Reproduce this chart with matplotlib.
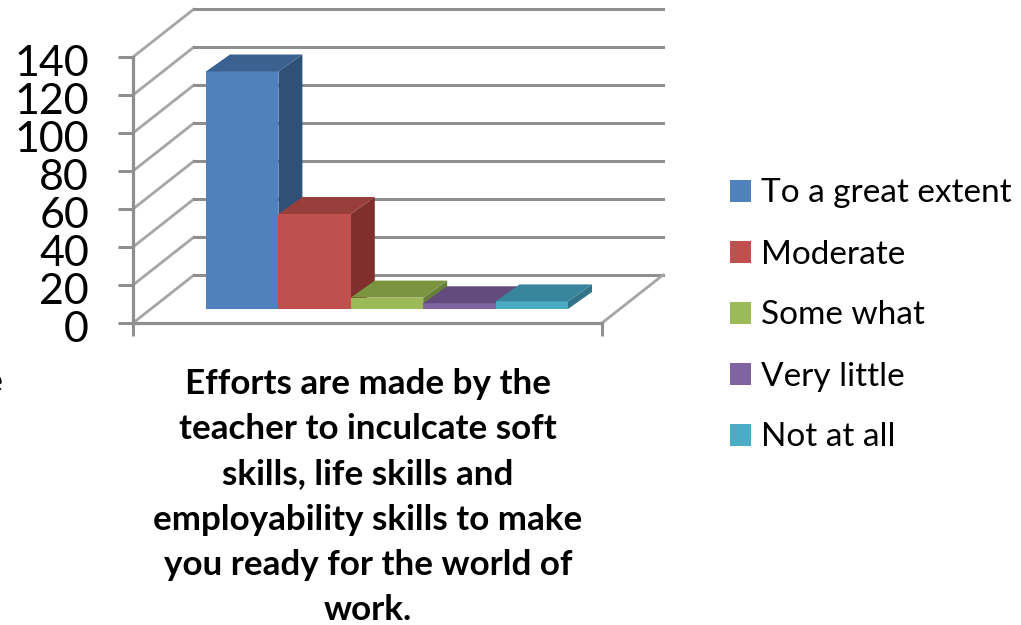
import matplotlib
matplotlib.use("Agg")
import matplotlib.pyplot as plt
from matplotlib.patches import Patch
from matplotlib.transforms import ScaledTranslation

categories = ["To a great extent", "Moderate", "Some what", "Very little", "Not at all"]
values = [125, 50, 6, 3, 4]
y_ticks = [0, 20, 40, 60, 80, 100, 120, 140]
title_text = ("Efforts are made by the\nteacher to inculcate soft\nskills, life skills and\n"
              "employability skills to make\nyou ready for the world of\nwork.")
front_colors = ["#4F81BD", "#C0504D", "#9BBB59", "#8064A2", "#4BACC6"]
top_colors = ["#3A6190", "#983F3C", "#7A9440", "#644B7E", "#39859B"]
side_colors = ["#2F5177", "#7F302D", "#66803A", "#523D6B", "#2F7488"]

W, H = 1021, 625
FONT = "Lato"
GRID = "#8F8F8F"
DIAG = "#A6A6A6"
px = 72 / 100

fig = plt.figure(figsize=(W / 100, H / 100), dpi=100)
left, right, top, bottom = 133, 602, 57, 323
ax = fig.add_axes([left / W, 1 - bottom / H, (right - left) / W, (bottom - top) / H])
ax.set_ylim(0, 140)
unit_x = 72.4
unit_y = (bottom - top) / 140
ax.set_xlim(-0.5 - 73 / unit_x, -0.5 - 73 / unit_x + (right - left) / unit_x)
x0, x1 = ax.get_xlim()

wall_dx, wall_dy = 61 / unit_x, 48 / unit_y      # depth of the floor
bar_dx, bar_dy = 24 / unit_x, 17 / unit_y        # depth of a column
lift = 14 / unit_y                               # gap from floor front edge to column base
positions = list(range(len(categories)))

# walls and floor
for t in y_ticks:
    ax.plot([x0, x0 + wall_dx], [t, t + wall_dy], color=DIAG, lw=2.8 * px, clip_on=False,
            solid_capstyle="round", zorder=1)
    ax.plot([x0 + wall_dx, x1 + wall_dx], [t + wall_dy, t + wall_dy], color=GRID, lw=3 * px,
            clip_on=False, zorder=1)
ax.plot([x0, x1], [0, 0], color=GRID, lw=3.2 * px, clip_on=False, zorder=2)
ax.plot([x1, x1 + wall_dx], [0, wall_dy], color=DIAG, lw=2.8 * px, clip_on=False, zorder=1)

# columns
for i, (p, v) in enumerate(zip(positions, values)):
    l, r = p - 0.5, p + 0.5
    b, t = lift, lift + v
    ax.bar(p, v, width=1.0, bottom=lift, color=front_colors[i], linewidth=0, zorder=3 + i * 0.1, clip_on=False)
    ax.fill([l, r, r + bar_dx, l + bar_dx], [t, t, t + bar_dy, t + bar_dy], color=top_colors[i],
            linewidth=0, zorder=3 + i * 0.1, clip_on=False)
    ax.fill([r, r + bar_dx, r + bar_dx, r], [b, b + bar_dy, t + bar_dy, t], color=side_colors[i],
            linewidth=0, zorder=3 + i * 0.1 - 0.05, clip_on=False)

for s in ["top", "right", "bottom"]:
    ax.spines[s].set_visible(False)
ax.spines["left"].set_color(GRID)
ax.spines["left"].set_linewidth(3.2 * px)
ax.set_yticks(y_ticks)
ax.set_yticklabels([str(t) for t in y_ticks], fontfamily=FONT, fontsize=31, color="black")
ax.tick_params(axis="y", length=15 * px, width=3 * px, color=GRID, pad=29 * px)
ax.set_xticks([x0, x1])
ax.set_xticklabels([])
ax.tick_params(axis="x", length=13 * px, width=3 * px, color=GRID)
shift = ScaledTranslation(0, -3 / 100, fig.dpi_scale_trans)
for lab in ax.get_yticklabels():
    lab.set_transform(lab.get_transform() + shift)
ax.patch.set_alpha(0)

# category title
fig.text(368 / W, 1 - 368 / H, title_text, ha="center", va="top", fontfamily=FONT, fontweight="bold",
         fontsize=25.2, linespacing=1.51, color="black")
# clipped word at the left edge of the picture
fig.text(3 / W, 1 - 392 / H, "e", ha="right", va="baseline", fontfamily=FONT, fontweight="bold",
         fontsize=25.2, color="black")

handles = [Patch(facecolor=c, edgecolor="none") for c in front_colors]
fig.legend(handles, categories, loc="center left", bbox_to_anchor=(730 / W, 1 - 315.5 / H),
           prop={"family": FONT, "size": 24}, frameon=False, handlelength=0.63, handleheight=0.63,
           handletextpad=0.3, labelspacing=0.93, borderpad=0, borderaxespad=0)

fig.savefig("out.png", dpi=100)
